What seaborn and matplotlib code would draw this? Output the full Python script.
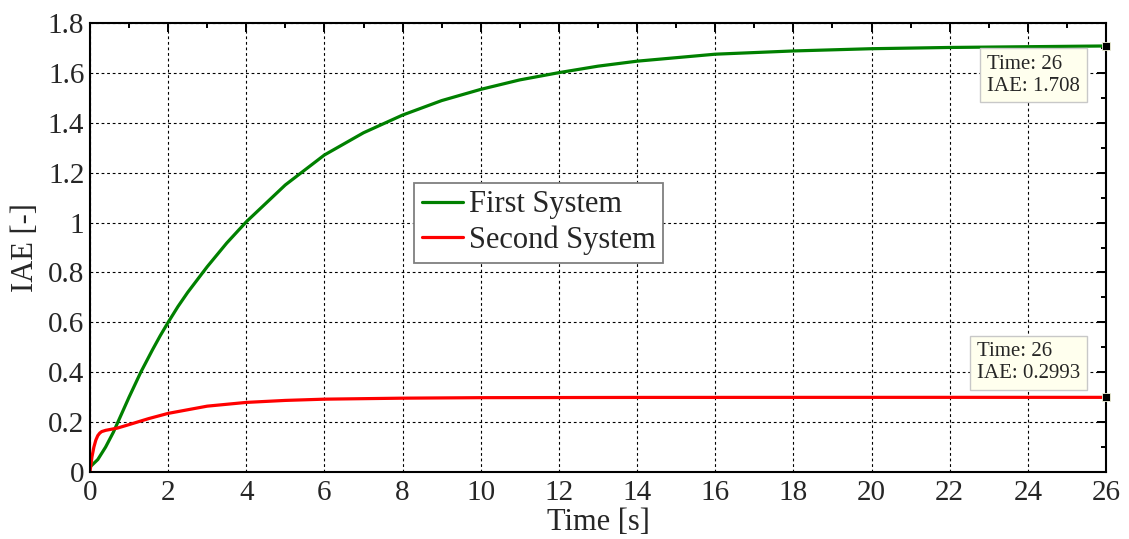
import numpy as np
import pandas as pd
import matplotlib
matplotlib.use("Agg")
import matplotlib.pyplot as plt
import seaborn as sns

# Integral of absolute error for the two closed-loop systems
time_first = [0, 0.2, 0.4, 0.6, 0.8, 1.0, 1.3, 1.6, 1.8, 2, 2.25, 2.5, 3, 3.5, 4, 5, 6, 7, 8, 9,
              10, 11, 12, 13, 14, 16, 18, 20, 22, 24, 26]
iae_first = [0.02, 0.05, 0.10, 0.16, 0.23, 0.30, 0.40, 0.49, 0.547, 0.600, 0.663, 0.72, 0.823,
             0.918, 1.003, 1.151, 1.271, 1.36, 1.431, 1.489, 1.534, 1.572, 1.601, 1.627, 1.647,
             1.675, 1.688, 1.697, 1.702, 1.705, 1.708]

time_second = [0, 0.05, 0.1, 0.15, 0.2, 0.25, 0.3, 0.4, 0.5, 0.7, 1.0, 1.5, 2, 3, 4, 5, 6, 8, 10,
               14, 18, 22, 26]
iae_second = [0.0, 0.06, 0.10, 0.128, 0.146, 0.156, 0.162, 0.167, 0.170, 0.176, 0.19, 0.214,
              0.235, 0.264, 0.279, 0.287, 0.292, 0.296, 0.298, 0.2990, 0.2992, 0.2993, 0.2993]

series_names = ["First System", "Second System"]
series_colors = ["#008000", "#FF0000"]

x_ticks = list(range(0, 27, 2))
y_ticks = [0, 0.2, 0.4, 0.6, 0.8, 1.0, 1.2, 1.4, 1.6, 1.8]
y_tick_labels = ["0", "0.2", "0.4", "0.6", "0.8", "1", "1.2", "1.4", "1.6", "1.8"]

df = pd.concat([
    pd.DataFrame({"Time": time_first, "IAE": iae_first, "System": series_names[0]}),
    pd.DataFrame({"Time": time_second, "IAE": iae_second, "System": series_names[1]}),
], ignore_index=True)

sns.set_style("white")
plt.rcParams["font.family"] = ["Liberation Serif", "DejaVu Serif"]

fig = plt.figure(figsize=(11.29, 5.39), dpi=100)
ax = fig.add_axes([0.0797, 0.1243, 0.8999, 0.8330])

sns.lineplot(data=df, x="Time", y="IAE", hue="System", hue_order=series_names,
             palette=series_colors, linewidth=2.3, estimator=None, errorbar=None,
             sort=False, ax=ax, legend=False)

ax.set_xlim(0, 26)
ax.set_ylim(0, 1.8)
ax.set_xticks(x_ticks)
ax.set_xticklabels([str(t) for t in x_ticks])
ax.set_yticks(y_ticks)
ax.set_yticklabels(y_tick_labels)
ax.set_xticks(np.arange(1, 26, 2), minor=True)
ax.set_yticks(np.arange(0.1, 1.8, 0.2), minor=True)

ax.tick_params(which="both", direction="in", top=True, right=True, width=1.4,
               color="black", labelsize=21)
ax.tick_params(which="major", length=6.5)
ax.tick_params(which="minor", length=3.8)
ax.tick_params(axis="x", pad=6)
ax.tick_params(axis="y", pad=4)

for side in ax.spines.values():
    side.set_visible(True)
    side.set_linewidth(1.5)
    side.set_color("black")

ax.grid(True, which="major", color="black", linestyle=(0, (2.5, 2.5)), linewidth=0.8)
ax.set_axisbelow(True)

ax.set_xlabel("Time [s]", fontsize=22, labelpad=1)
ax.set_ylabel("IAE [-]", fontsize=22, labelpad=6)

# Legend
handles = ax.get_lines()[:2]
leg = ax.legend(handles, series_names, loc="upper left", bbox_to_anchor=(0.319, 0.644),
                borderaxespad=0, fontsize=22, frameon=True, fancybox=False,
                handlelength=1.35, handletextpad=0.2, borderpad=0.25, labelspacing=0.2)
leg.get_frame().set_edgecolor("#7f7f7f")
leg.get_frame().set_linewidth(1.3)
leg.get_frame().set_facecolor("white")
leg.get_frame().set_alpha(1)

# Data tips at the final time
tip_offsets = [(-119, -9), (-129, 55)]
for t_vals, v_vals, offset in zip([time_first, time_second], [iae_first, iae_second], tip_offsets):
    t_end, v_end = t_vals[-1], v_vals[-1]
    ax.plot([t_end], [v_end], marker="s", markersize=6, color="black",
            markeredgecolor="#f5f5dc", markeredgewidth=0.6, clip_on=False, zorder=5)
    ax.annotate(f"Time: {t_end:g}\nIAE: {v_end:g}", xy=(t_end, v_end), xytext=offset,
                textcoords="offset pixels", ha="left", va="top", fontsize=15,
                linespacing=1.2, zorder=6,
                bbox=dict(boxstyle="square,pad=0.32", facecolor="#FFFFEE",
                          edgecolor="#C8C8C8", linewidth=1.0))

fig.savefig("out.png", dpi=100)
